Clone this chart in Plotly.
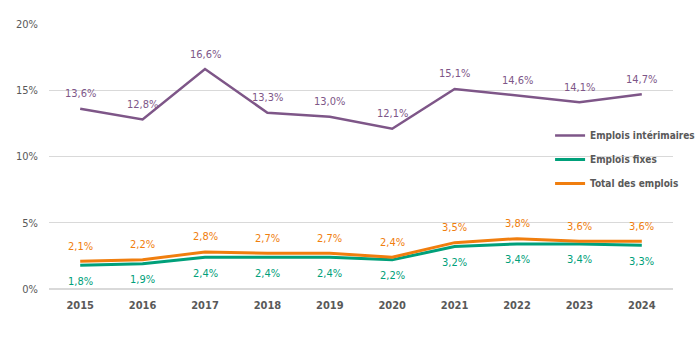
import plotly.graph_objects as go

years = ["2015", "2016", "2017", "2018", "2019", "2020", "2021", "2022", "2023", "2024"]
interim = [13.6, 12.8, 16.6, 13.3, 13.0, 12.1, 15.1, 14.6, 14.1, 14.7]
fixes = [1.8, 1.9, 2.4, 2.4, 2.4, 2.2, 3.2, 3.4, 3.4, 3.3]
total = [2.1, 2.2, 2.8, 2.7, 2.7, 2.4, 3.5, 3.8, 3.6, 3.6]
y_ticks = [0, 5, 10, 15, 20]

PURPLE = "#7E5688"
GREEN = "#00A07A"
ORANGE = "#F07E0E"
FONT = "DejaVu Sans Condensed, Roboto, sans-serif"

def fmt(v):
    return f"{v:.1f}".replace(".", ",") + "%"

fig = go.Figure()

series = [
    ("Emplois intérimaires", interim, PURPLE, 2.5, 15),
    ("Emplois fixes", fixes, GREEN, 3, -16),
    ("Total des emplois", total, ORANGE, 3, 15),
]

for name, vals, col, w, sh in series[1:]:
    fig.add_trace(go.Scatter(x=years, y=vals, mode="lines", line=dict(color="white", width=7),
                             showlegend=False, hoverinfo="skip"))

for k, (name, vals, col, w, sh) in enumerate(series):
    fig.add_trace(go.Scatter(x=years, y=vals, mode="lines", name="<b>" + name + "</b>",
                             legendgroup=f"g{k}", line=dict(color=col, width=w)))
    for i, v in enumerate(vals):
        fig.add_annotation(x=i, y=v, xref="x", yref="y", text=fmt(v), showarrow=False,
                           yshift=sh, font=dict(family=FONT, size=11, color=col))

fig.update_layout(
    width=700, height=344,
    margin=dict(l=49, r=27, t=24, b=55, autoexpand=False),
    paper_bgcolor="white", plot_bgcolor="white",
    font=dict(family=FONT, color="#595959"),
    showlegend=True,
    legend=dict(x=0.803, y=0.634, xanchor="left", yanchor="top",
                font=dict(family=FONT, size=10, color="#595959"),
                bgcolor="rgba(0,0,0,0)", tracegroupgap=5, itemwidth=30),
)
fig.update_xaxes(type="category", range=[-0.5, 9.5], showgrid=False, showline=False,
                 ticks="", tickvals=years, ticktext=["<b>" + y + "</b>" for y in years],
                 ticklabelstandoff=8,
                 tickfont=dict(family=FONT, size=11, color="#595959"))
fig.update_yaxes(range=[0, 20], tickvals=y_ticks, ticktext=[f"{t}%" for t in y_ticks],
                 showgrid=True, gridcolor="#D9D9D9", gridwidth=1, zeroline=True,
                 zerolinecolor="#D9D9D9", zerolinewidth=2, showline=False, ticks="",
                 ticklabelstandoff=10,
                 tickfont=dict(family=FONT, size=11, color="#595959"))

fig.write_html("out.html")
